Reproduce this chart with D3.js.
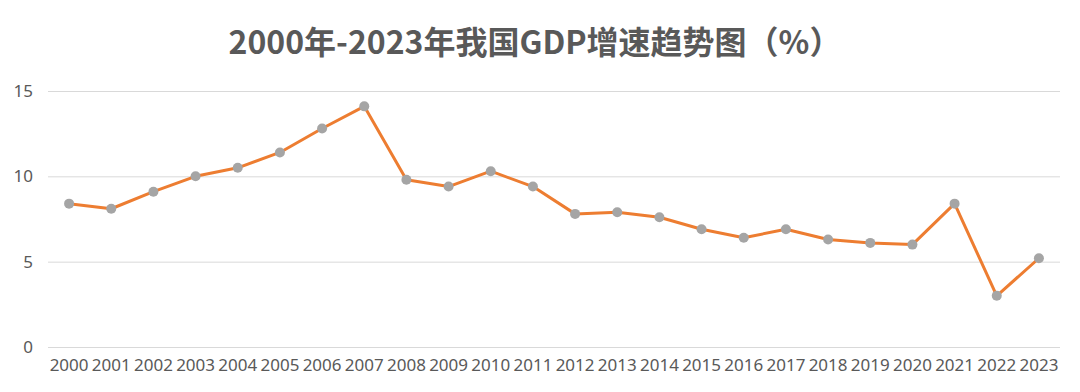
<!DOCTYPE html>
<meta charset="utf-8">
<head>
  <title>GDP growth</title>
</head>
<style>
body { margin: 0; background: #fff; }
.grid line { stroke: #d9d9d9; stroke-width: 1px; }
.axis text { fill: #595959; font-family: "Noto Sans", "Noto Sans CJK SC", sans-serif; }
.title { fill: #595959; font-family: "Noto Sans CJK SC", sans-serif; font-weight: bold; }
</style>
<body>
<svg width="1080" height="392"></svg>

<script src="https://cdnjs.cloudflare.com/ajax/libs/d3/7.8.5/d3.min.js"></script>
<script>
var years = ["2000","2001","2002","2003","2004","2005","2006","2007","2008","2009","2010","2011",
             "2012","2013","2014","2015","2016","2017","2018","2019","2020","2021","2022","2023"];
var growth = [8.4, 8.1, 9.1, 10.0, 10.5, 11.4, 12.8, 14.1, 9.8, 9.4, 10.3, 9.4,
              7.8, 7.9, 7.6, 6.9, 6.4, 6.9, 6.3, 6.1, 6.0, 8.4, 3.0, 5.2];
var yTicks = [0, 5, 10, 15];
var title = "2000年-2023年我国GDP增速趋势图（%）";

var svg = d3.select("svg");
var plotLeft = 48, plotRight = 1060, plotTop = 91, plotBottom = 347;

var x = d3.scaleBand().domain(years).range([plotLeft, plotRight]);
var y = d3.scaleLinear().domain([0, 15]).range([plotBottom, plotTop]);

svg.append("text")
  .attr("class", "title")
  .attr("x", 535)
  .attr("y", 54)
  .attr("text-anchor", "middle")
  .style("font-size", "32px")
  .text(title);

// gridlines
svg.append("g")
  .attr("class", "grid")
  .selectAll("line")
  .data(yTicks)
  .enter()
  .append("line")
  .attr("x1", plotLeft)
  .attr("x2", plotRight)
  .attr("y1", function(d) { return y(d) + 0.5; })
  .attr("y2", function(d) { return y(d) + 0.5; });

// y axis labels
var yAxis = svg.append("g")
  .attr("class", "axis")
  .attr("transform", "translate(" + plotLeft + ",0)")
  .call(d3.axisLeft(y).tickValues(yTicks).tickSize(0).tickPadding(15));
yAxis.select(".domain").remove();
yAxis.selectAll("text").style("font-size", "17px");

// x axis labels
var xAxis = svg.append("g")
  .attr("class", "axis")
  .attr("transform", "translate(0," + plotBottom + ")")
  .call(d3.axisBottom(x).tickSize(0).tickPadding(12));
xAxis.select(".domain").remove();
xAxis.selectAll("text").style("font-size", "17px");

var line = d3.line()
  .x(function(d, i) { return x(years[i]) + x.bandwidth() / 2; })
  .y(function(d) { return y(d); });

svg.append("path")
  .datum(growth)
  .attr("fill", "none")
  .attr("stroke", "#ED7D31")
  .attr("stroke-width", 3)
  .attr("stroke-linejoin", "round")
  .attr("d", line);

svg.append("g")
  .selectAll("circle")
  .data(growth)
  .enter()
  .append("circle")
  .attr("cx", function(d, i) { return x(years[i]) + x.bandwidth() / 2; })
  .attr("cy", function(d) { return y(d); })
  .attr("r", 5)
  .attr("fill", "#A5A5A5");
</script>
</body>
</html>
